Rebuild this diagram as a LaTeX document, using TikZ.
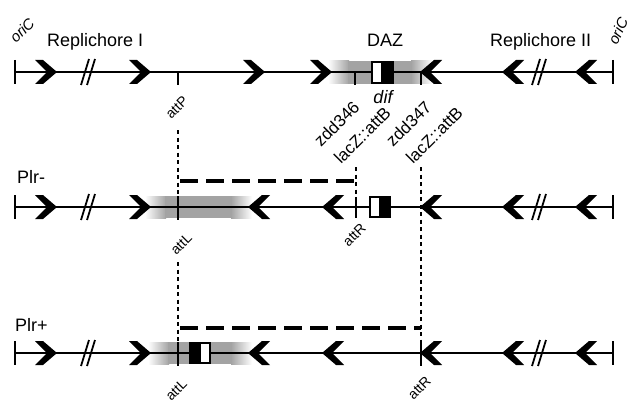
\documentclass[tikz,border=0pt]{standalone}
\usepackage{fontspec}
\setmainfont{Liberation Sans}
\definecolor{bandgray}{gray}{0.64}
\begin{document}
\begin{tikzpicture}[x=1pt,y=1pt,
  backbone/.style={line width=2pt},
  endbar/.style={line width=2.2pt},
  tickmark/.style={line width=2pt},
  slash/.style={line width=1.8pt},
  dotline/.style={line width=2pt, dash pattern=on 4pt off 3.5pt},
  dashline/.style={line width=3.5pt, dash pattern=on 18pt off 8pt},
  boxline/.style={line width=1.6pt},
  biglab/.style={inner sep=0pt, font=\fontsize{18}{21}\selectfont},
  sitelab/.style={inner sep=0pt, font=\fontsize{14}{17}\selectfont, anchor=base east},
  strainlab/.style={inner sep=0pt, font=\fontsize{17}{20}\selectfont, anchor=base west},
  orilab/.style={inner sep=0pt, font=\fontsize{15}{18}\selectfont\itshape, anchor=base west},
  chevright/.pic={\fill (-22,12) -- (-14,12) -- (0,0) -- (-14,-12) -- (-22,-12) -- (-10,0) -- cycle;},
  chevleft/.pic={\fill (22,12) -- (14,12) -- (0,0) -- (14,-12) -- (22,-12) -- (10,0) -- cycle;},
  brk/.pic={\draw[slash] (-6,-13) -- (2,13) (0,-13) -- (8,13);},
]
\useasboundingbox (0,-404) rectangle (632,0);

% ---- grey zones (DAZ and its recombined copies) ----
\shade[left color=white, right color=bandgray] (328,-61) rectangle (349,-84);
\fill[bandgray] (348,-61) rectangle (412,-84);
\shade[left color=bandgray, right color=white] (411,-61) rectangle (432,-84);

\shade[left color=white, right color=bandgray] (145,-196) rectangle (166,-218);
\fill[bandgray] (165,-196) rectangle (232,-218);
\shade[left color=bandgray, right color=white] (231,-196) rectangle (252,-218);

\shade[left color=white, right color=bandgray] (148,-342) rectangle (169,-364);
\fill[bandgray] (168,-342) rectangle (232,-364);
\shade[left color=bandgray, right color=white] (231,-342) rectangle (252,-364);

% ---- chromosome backbones ----
\foreach \yy in {72,207,353}{
  \draw[backbone] (15,-\yy) -- (613,-\yy);
  \draw[endbar] (15,-\yy+12) -- (15,-\yy-12);
  \draw[endbar] (613,-\yy+12) -- (613,-\yy-12);
  \pic at (87,-\yy) {brk};
  \pic at (538,-\yy) {brk};
  \pic at (57,-\yy) {chevright};
  \pic at (151,-\yy) {chevright};
  \pic at (420,-\yy) {chevleft};
  \pic at (502,-\yy) {chevleft};
  \pic at (575,-\yy) {chevleft};
}
% wild type: KOPS still point towards dif
\pic at (265,-72) {chevright};
\pic at (332,-72) {chevright};
% after attL/attR recombination the segment is inverted
\foreach \yy in {207,353}{
  \pic at (248,-\yy) {chevleft};
  \pic at (322,-\yy) {chevleft};
}

% ---- site ticks ----
\draw[tickmark] (178,-72) -- (178,-85);
\draw[tickmark] (355,-72) -- (355,-85);
\draw[tickmark] (421,-72) -- (421,-85);
\draw[tickmark] (178,-196) -- (178,-220);
\draw[tickmark] (356,-198) -- (356,-218);
\draw[tickmark] (178,-342) -- (178,-366);
\draw[tickmark] (421,-342) -- (421,-366);

% ---- dif sites ----
\draw[boxline, fill=white] (372,-62) rectangle (382,-83);
\draw[boxline, fill=black] (382,-62) rectangle (393,-83);
\draw[boxline, fill=white] (370,-197) rectangle (380,-217);
\draw[boxline, fill=black] (380,-197) rectangle (390,-217);
\draw[boxline, fill=black] (190,-343) rectangle (200,-363);
\draw[boxline, fill=white] (200,-343) rectangle (210,-363);

% ---- reference lines ----
\coordinate (pTop) at (178,-130);
\coordinate (L2) at (178,-207);
\coordinate (L2low) at (178,-262);
\coordinate (L3) at (178,-353);
\coordinate (b346) at (356,-167);
\coordinate (R2) at (356,-207);
\coordinate (b347) at (421,-167);
\coordinate (R3) at (421,-353);
\draw[dotline] (pTop) -- (L2);
\draw[dotline] (L2low) -- (L3);
\draw[dotline] (b346) -- (R2);
\draw[dotline] (b347) -- (R3);

\coordinate (d2a) at (180,-181);
\coordinate (d2b) at (356,-181);
\coordinate (d3a) at (180,-328);
\coordinate (d3b) at (421,-328);
\draw[dashline] (d2a) -- (d2b);
\draw[dashline] (d3a) -- (d3b);

% ---- labels ----
\node[biglab, anchor=base west] (rep1) at (47,-47) {Replichore I};
\node[biglab, anchor=base] (daz) at (385,-47) {DAZ};
\node[biglab, anchor=base west] (rep2) at (490,-47) {Replichore II};
\node[biglab, anchor=base west] (plrm) at (17,-183) {Plr-};
\node[biglab, anchor=base west] (plrp) at (15,-331) {Plr+};
\node[biglab, font=\fontsize{18}{21}\selectfont\itshape] (dif) at (383,-97) {dif};
\node[orilab, rotate=45] (ori1) at (16,-44) {oriC};
\node[orilab, rotate=65] (ori2) at (617,-46) {oriC};

\node[sitelab, rotate=45] (attPl) at (189,-102) {attP};
\node[sitelab, rotate=45] (attL2l) at (193,-239) {attL};
\node[sitelab, rotate=45] (attR2l) at (367,-229) {attR};
\node[sitelab, rotate=45] (attL3l) at (188,-385) {attL};
\node[sitelab, rotate=45] (attR3l) at (432,-382) {attR};

\node[strainlab, rotate=45] (z346) at (321,-148) {zdd346};
\node[strainlab, rotate=45] (lac346) at (341,-165) {lacZ::attB};
\node[strainlab, rotate=45] (z347) at (393,-148) {zdd347};
\node[strainlab, rotate=45] (lac347) at (413,-165) {lacZ::attB};
\end{tikzpicture}
\end{document}
